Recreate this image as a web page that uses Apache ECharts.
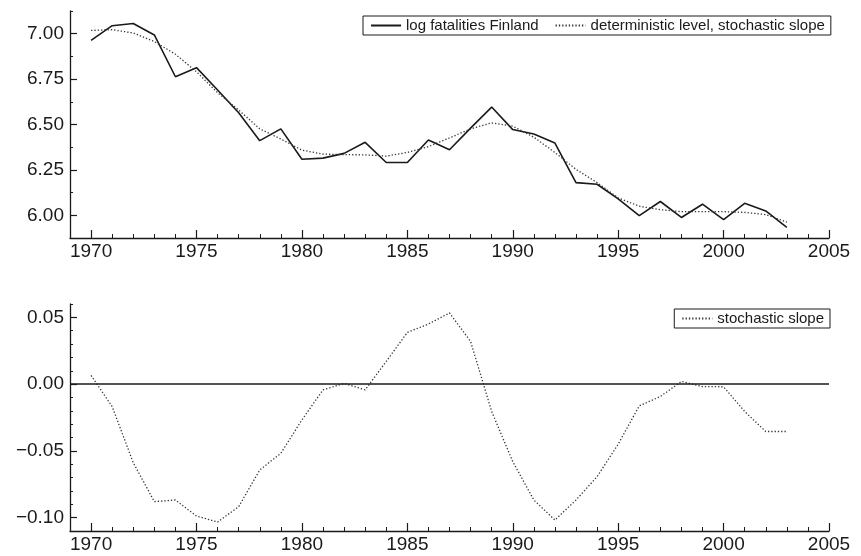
<!DOCTYPE html>
<html>
<head>
<meta charset="utf-8">
<script src="https://cdn.jsdelivr.net/npm/echarts@6/dist/echarts.min.js"></script>
<style>
  html, body { margin: 0; padding: 0; background: #fff; }
  #chart { width: 861px; height: 556px; }
</style>
</head>
<body>
<div id="chart"></div>
<script>
// years of observation
var years = [1970, 1971, 1972, 1973, 1974, 1975, 1976, 1977, 1978, 1979,
  1980, 1981, 1982, 1983, 1984, 1985, 1986, 1987, 1988, 1989,
  1990, 1991, 1992, 1993, 1994, 1995, 1996, 1997, 1998, 1999,
  2000, 2001, 2002, 2003]
// log fatalities Finland (solid line, top panel)
var logFatalities = [6.963, 7.044, 7.056, 6.993, 6.763, 6.813, 6.69, 6.565, 6.411, 6.476,
  6.309, 6.315, 6.341, 6.402, 6.291, 6.291, 6.415, 6.361, 6.48, 6.596,
  6.472, 6.448, 6.398, 6.18, 6.171, 6.09, 5.998, 6.076, 5.988, 6.061,
  5.976, 6.066, 6.024, 5.933]
// deterministic level, stochastic slope (dotted, top panel)
var detLevel = [7.018, 7.022, 7.004, 6.957, 6.887, 6.79, 6.675, 6.58, 6.476, 6.42,
  6.359, 6.337, 6.334, 6.333, 6.326, 6.346, 6.378, 6.426, 6.476, 6.509,
  6.491, 6.43, 6.346, 6.253, 6.18, 6.096, 6.05, 6.031, 6.02, 6.02,
  6.02, 6.016, 6.004, 5.963]
// stochastic slope (dotted, bottom panel)
var stochSlope = [0.0065, -0.0168, -0.0588, -0.088, -0.0868, -0.0988, -0.1033, -0.0918, -0.0643, -0.0518,
  -0.0268, -0.0043, 0.0005, -0.0043, 0.017, 0.0387, 0.045, 0.0533, 0.032, -0.0205,
  -0.058, -0.0868, -0.1018, -0.0868, -0.0693, -0.045, -0.0163, -0.0093, 0.002, -0.0018,
  -0.002, -0.0205, -0.0355, -0.0355]
// tick labels
var xTicks = [1970, 1975, 1980, 1985, 1990, 1995, 2000, 2005]
var yTicksTop = [6.0, 6.25, 6.5, 6.75, 7.0]
var yTicksBottom = [-0.1, -0.05, 0, 0.05]

var font = "'Liberation Sans', Arial, Helvetica, sans-serif"
var ink = '#1a1a1a'

function pairs(vals) {
  return years.map(function (y, i) { return [y, vals[i]] })
}

function fmt(v) {
  return v.toFixed(2).replace('-', '\u2212')
}

// one x axis with long ticks + labels, one with short yearly ticks
function xAxes(grid) {
  return [
    {
      type: 'value', gridIndex: grid, position: 'bottom', min: 1969, max: 2005, interval: 1,
      splitLine: { show: false },
      axisLine: { show: true, onZero: false, lineStyle: { color: ink, width: 1.3 } },
      axisTick: { show: true, inside: true, length: 4, lineStyle: { color: ink, width: 1 } },
      axisLabel: { show: false }
    },
    {
      type: 'value', gridIndex: grid, position: 'bottom', min: 1969, max: 2005,
      splitLine: { show: false },
      axisLine: { show: false, onZero: false },
      axisTick: { show: true, inside: true, length: 8, customValues: xTicks, lineStyle: { color: ink, width: 1.2 } },
      axisLabel: {
        show: true, customValues: xTicks, margin: 4, color: ink, fontSize: 19, fontFamily: font,
        formatter: function (v) { return String(v) }
      }
    }
  ]
}

function yAxes(grid, min, max, minorStep, ticks) {
  return [
    {
      type: 'value', gridIndex: grid, position: 'left', min: min, max: max, interval: minorStep,
      splitLine: { show: false },
      axisLine: { show: true, onZero: false, lineStyle: { color: ink, width: 1.3 } },
      axisTick: { show: true, inside: true, length: 3, lineStyle: { color: ink, width: 1 } },
      axisLabel: { show: false }
    },
    {
      type: 'value', gridIndex: grid, position: 'left', min: min, max: max,
      splitLine: { show: false },
      axisLine: { show: false, onZero: false },
      axisTick: { show: true, inside: true, length: 7, customValues: ticks, lineStyle: { color: ink, width: 1.2 } },
      axisLabel: { show: true, customValues: ticks, margin: 6, color: ink, fontSize: 19, fontFamily: font, formatter: fmt }
    }
  ]
}

var legendBase = {
  orient: 'horizontal',
  borderColor: ink,
  borderWidth: 1,
  itemWidth: 30,
  itemHeight: 14,
  itemGap: 16,
  itemStyle: { opacity: 0 },
  textStyle: { color: ink, fontSize: 15, fontFamily: font },
  padding: [2, 6, 2, 7]
}

var chart = echarts.init(document.getElementById('chart'), null, { renderer: 'canvas' })
var option = {
  animation: false,
  backgroundColor: '#fff',
  grid: [
    { left: 70, right: 32, top: 11, height: 227 },
    { left: 70, right: 32, top: 304, height: 227 }
  ],
  legend: [
    Object.assign({}, legendBase, {
      left: 363, top: 16,
      data: ['log fatalities Finland', 'deterministic level, stochastic slope']
    }),
    Object.assign({}, legendBase, {
      right: 31, top: 309,
      data: ['stochastic slope']
    })
  ],
  xAxis: xAxes(0).concat(xAxes(1)),
  yAxis: yAxes(0, 5.875, 7.125, 0.125, yTicksTop).concat(yAxes(1, -0.11, 0.06, 0.01, yTicksBottom)),
  series: [
    {
      name: 'log fatalities Finland', type: 'line', xAxisIndex: 0, yAxisIndex: 0,
      symbol: 'none', data: pairs(logFatalities),
      lineStyle: { color: ink, width: 1.6 }, itemStyle: { color: ink }
    },
    {
      name: 'deterministic level, stochastic slope', type: 'line', xAxisIndex: 0, yAxisIndex: 0,
      symbol: 'none', data: pairs(detLevel),
      lineStyle: { color: '#333', width: 1.3, type: [1.3, 2] }, itemStyle: { color: '#333' }
    },
    {
      name: 'stochastic slope', type: 'line', xAxisIndex: 2, yAxisIndex: 2,
      symbol: 'none', data: pairs(stochSlope),
      lineStyle: { color: '#333', width: 1.3, type: [1.3, 2] }, itemStyle: { color: '#333' },
      markLine: {
        silent: true, symbol: 'none', label: { show: false },
        lineStyle: { color: ink, width: 1.5, type: 'solid' },
        data: [{ yAxis: 0 }]
      }
    }
  ]
}
chart.setOption(option)
</script>
</body>
</html>
